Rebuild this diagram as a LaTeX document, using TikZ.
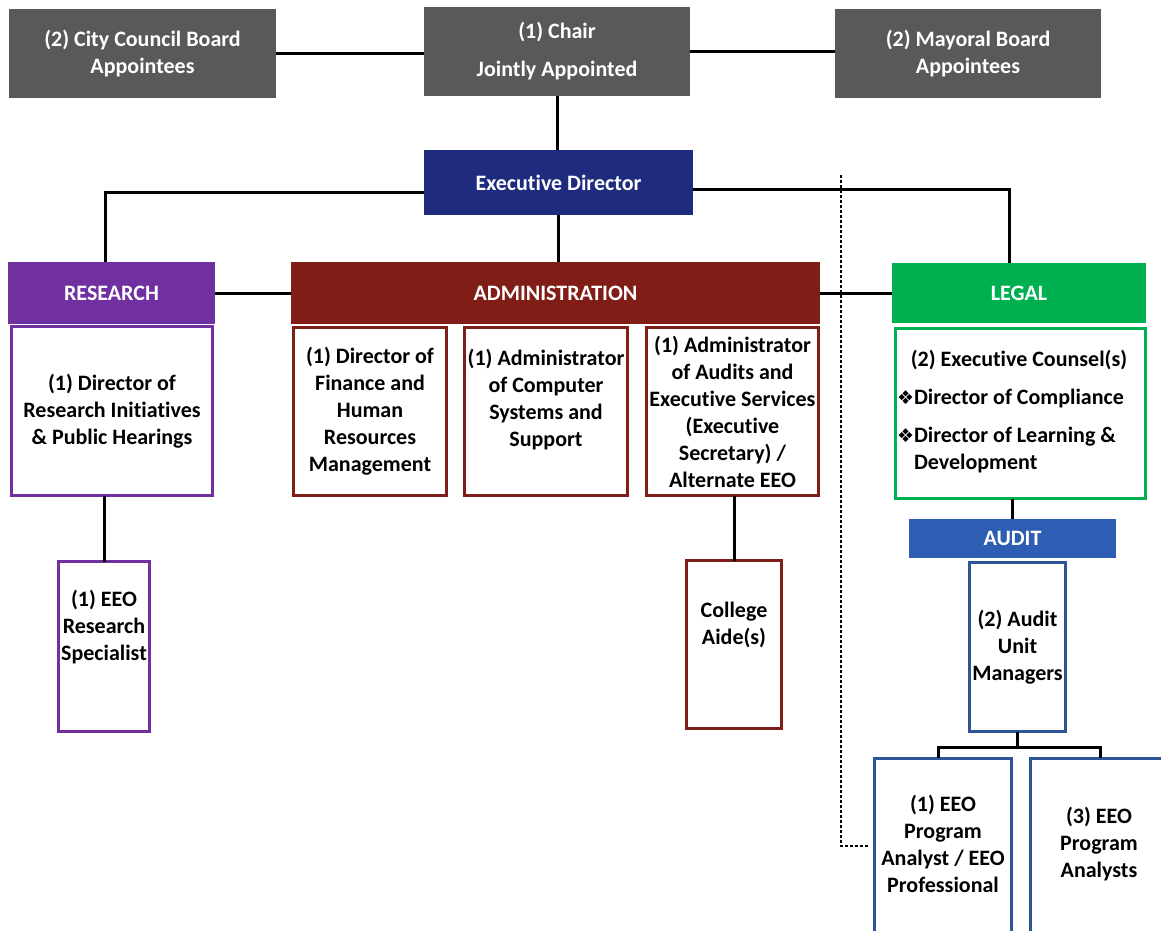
\documentclass[tikz,border=0pt]{standalone}
\usepackage{fontspec}
\setmainfont{Carlito}[Ligatures=NoCommon]
\newfontfamily\symfont{DejaVu Sans}
\definecolor{boardgray}{HTML}{595959}
\definecolor{navy}{HTML}{1F2C7E}
\definecolor{respurple}{HTML}{7030A0}
\definecolor{admred}{HTML}{7F1D16}
\definecolor{legalgreen}{HTML}{00B050}
\definecolor{auditblue}{HTML}{2E5DB4}
\definecolor{auditline}{HTML}{2F5597}
\newcommand{\bul}{{\symfont\fontsize{19}{19}\selectfont ❖}\hspace{2pt}}
\begin{document}
\begin{tikzpicture}[x=1pt,y=-1pt,
  every node/.style={inner sep=0pt, outer sep=0pt},
  lbl/.style={font=\bfseries\fontsize{22}{27}\selectfont, align=center},
  wh/.style 2 args={minimum width=#1, minimum height=#2},
  topbox/.style={lbl, fill=boardgray, text=white},
  headbox/.style={lbl, fill=#1, text=white},
  bodybox/.style={lbl, draw=#1, line width=3pt, fill=white},
  conn/.style={line width=3pt, black},
  dotline/.style={line width=2.5pt, black, dash pattern=on 2.5pt off 2.5pt}
]
\useasboundingbox (0,0) rectangle (1161,930);
\fill[white] (0,0) rectangle (1161,930);
\clip (0,0) rectangle (1161,930);

% top row
\node[topbox, wh={267}{89}] (council) at (142.5,53.5) {(2) City Council Board\\Appointees};
\node[topbox, wh={266}{89}] (chair) at (557,51.5) {(1) Chair\\[11pt]Jointly Appointed};
\node[topbox, wh={266}{89}] (mayor) at (968,53.5) {(2) Mayoral Board\\Appointees};
\node[headbox=navy, wh={269}{65}] (ed) at (558.5,182.5) {Executive Director};

% research
\node[headbox=respurple, wh={207}{62}] (rh) at (111.5,293) {RESEARCH};
\node[bodybox=respurple, wh={201}{169}] (rb) at (112,411) {(1) Director of\\Research Initiatives\\\& Public Hearings};

% administration
\node[headbox=admred, wh={529}{62}] (ah) at (555.5,293) {ADMINISTRATION};
\node[bodybox=admred, wh={153}{168}] (a1) at (370,411.5) {(1) Director of\\Finance and\\Human\\Resources\\Management};
\node[bodybox=admred, wh={163}{168}] (a2) at (546,411.5) {};
\node[lbl] (a2t) at (546,400) {(1) Administrator\\of Computer\\Systems and\\Support};
\node[bodybox=admred, wh={172}{168}] (a3) at (732.5,411.5) {(1) Administrator\\of Audits and\\Executive Services\\(Executive\\Secretary) /\\Alternate EEO};

% legal
\node[headbox=legalgreen, wh={254}{60}] (lh) at (1019,293) {LEGAL};
\node[bodybox=legalgreen, wh={250}{170}] (lb) at (1020.5,413.5) {};
\node[lbl] (lc1) at (1019,360) {(2) Executive Counsel(s)};
\node[lbl, anchor=north west] (lc2) at (897,386) {\begin{tabular}{@{}l@{}l@{}}\bul & Director of Compliance\\[11pt]\bul & Director of Learning \&\\ & Development\end{tabular}};

% audit
\node[headbox=auditblue, wh={207}{39}] (audh) at (1012.5,538.5) {AUDIT};
\node[bodybox=auditline, wh={96}{169}] (audb) at (1017.5,647) {(2) Audit\\Unit\\Managers};

% lower boxes
\node[bodybox=respurple, wh={91}{170}] (eeor) at (104,646.5) {};
\node[lbl] (eeort) at (104,627) {(1) EEO\\Research\\Specialist};
\node[bodybox=admred, wh={95}{168}] (col) at (734,644.5) {};
\node[lbl] (colt) at (734,624.5) {College\\Aide(s)};
\node[bodybox=auditline, wh={137}{200}] (pa1) at (943,858) {};
\node[lbl] (pa1t) at (943,844) {(1) EEO\\Program\\Analyst / EEO\\Professional};
\node[bodybox=auditline, wh={148}{200}] (pa3) at (1104.5,858) {};
\node[lbl] (pa3t) at (1099,844) {(3) EEO\\Program\\Analysts};

% connectors
\draw[conn] (council.east) -- (council.east -| chair.west);
\draw[conn] (chair.east) -- (chair.east -| mayor.west);
\draw[conn] (chair.south) -- (chair.south |- ed.north);
\draw[conn] ([yshift=-10pt]ed.west) -| ([xshift=-6pt]rh.north);
\draw[conn] ([yshift=-6.5pt]ed.east) -| ([xshift=-10pt]lh.north);
\draw[conn] (ed.south) -- (ed.south |- ah.north);
\draw[conn] (rh.east) -- (ah.west);
\draw[conn] (ah.east) -- (lh.west);
\draw[conn] (eeor.north |- rb.south) -- (eeor.north);
\draw[conn] (col.north |- a3.south) -- (col.north);
\draw[conn] (audh.north |- lb.south) -- (audh.north);
\coordinate (brL) at (938,747);
\coordinate (brR) at (1100,747);
\draw[conn] (audb.south) -- (audb.south |- brL);
\draw[conn] (brL |- pa1.north) -- (brL) -- (brR) -- (brR |- pa3.north);
\coordinate (dtop) at (841,175);
\coordinate (dbot) at (841,846);
\draw[dotline] (dtop) -- (dbot) -- ([xshift=-6pt]dbot -| pa1.west);
\end{tikzpicture}
\end{document}
